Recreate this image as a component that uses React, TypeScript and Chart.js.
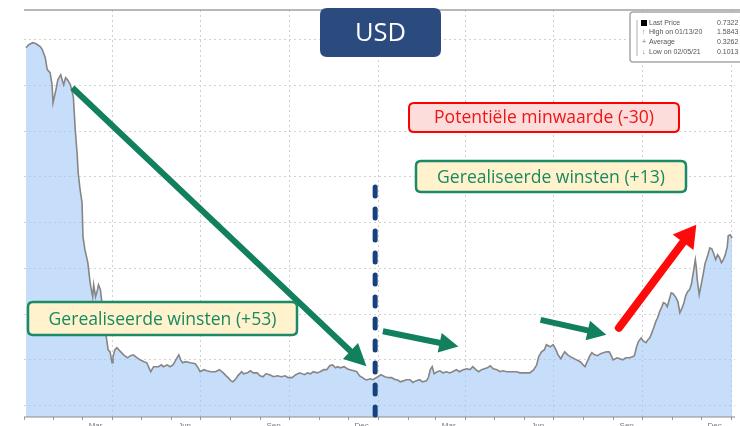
import React, { useEffect, useRef } from "react";
import { Chart, registerables } from "chart.js";

Chart.register(...registerables);

// Days since 2020-01-01
const days = [
  2, 5, 9, 12, 14, 17, 19, 22, 24, 27, 29, 30, 33, 35, 38, 40, 41, 43, 45, 48,
  51, 53, 55, 56, 58, 60, 61, 63, 66, 68, 69, 71, 72, 74, 76, 77, 79, 81, 84, 87,
  89, 91, 92, 94, 96, 100, 103, 107, 110, 113, 117, 120, 124, 127, 131, 134, 139, 142, 144, 148,
  151, 154, 156, 160, 162, 164, 167, 172, 177, 180, 182, 186, 189, 193, 198, 202, 206, 209, 211, 214,
  216, 219, 221, 225, 227, 231, 234, 237, 241, 244, 247, 250, 254, 258, 262, 266, 270, 273, 277, 281,
  285, 290, 293, 296, 299, 303, 306, 310, 313, 316, 319, 322, 324, 327, 331, 334, 337, 341, 344, 347,
  350, 353, 355, 358, 361, 364, 366, 369, 373, 377, 380, 384, 386, 389, 392, 395, 399, 402, 405, 409,
  412, 416, 418, 420, 422, 424, 427, 430, 433, 437, 440, 443, 447, 450, 454, 458, 461, 464, 467, 470,
  473, 476, 479, 482, 485, 489, 492, 495, 499, 502, 506, 509, 513, 518, 523, 527, 530, 532, 535, 538,
  540, 544, 547, 550, 552, 555, 557, 559, 562, 565, 567, 571, 575, 578, 580, 583, 585, 587, 590, 593,
  596, 599, 602, 605, 607, 609, 613, 616, 619, 622, 626, 629, 631, 633, 635, 638, 640, 643, 645, 647,
  649, 651, 653, 655, 657, 659, 661, 663, 665, 667, 669, 671, 674, 676, 678, 680, 682, 684, 686, 688,
  690, 692, 694, 695, 696, 698, 700, 702, 704, 707, 709, 711, 713, 715, 717, 719, 721, 723, 725, 727,
  728, 730, 732,
];

const prices = [
  1.565, 1.578, 1.587, 1.584, 1.578, 1.569, 1.556, 1.521, 1.469, 1.456, 1.403, 1.324, 1.381, 1.425, 1.447, 1.416, 1.403, 1.434, 1.425, 1.403,
  1.351, 1.206, 1.097, 1.018, 0.944, 0.887, 0.738, 0.681, 0.625, 0.55, 0.52, 0.476, 0.528, 0.476, 0.507, 0.528, 0.507, 0.432, 0.332, 0.244,
  0.235, 0.187, 0.213, 0.244, 0.253, 0.235, 0.222, 0.209, 0.218, 0.222, 0.209, 0.2, 0.192, 0.187, 0.148, 0.17, 0.17, 0.178, 0.17, 0.178,
  0.17, 0.178, 0.192, 0.222, 0.2, 0.187, 0.192, 0.187, 0.183, 0.165, 0.148, 0.157, 0.152, 0.148, 0.148, 0.157, 0.143, 0.13, 0.122, 0.108,
  0.104, 0.117, 0.13, 0.148, 0.139, 0.143, 0.152, 0.143, 0.143, 0.13, 0.126, 0.139, 0.135, 0.126, 0.13, 0.126, 0.13, 0.122, 0.122, 0.135,
  0.143, 0.135, 0.143, 0.139, 0.148, 0.143, 0.148, 0.157, 0.157, 0.174, 0.178, 0.165, 0.17, 0.165, 0.17, 0.161, 0.157, 0.152, 0.148, 0.13,
  0.122, 0.113, 0.113, 0.117, 0.113, 0.122, 0.126, 0.135, 0.126, 0.122, 0.122, 0.113, 0.113, 0.104, 0.108, 0.113, 0.113, 0.1013, 0.108, 0.113,
  0.104, 0.108, 0.122, 0.157, 0.17, 0.139, 0.148, 0.152, 0.143, 0.148, 0.143, 0.148, 0.157, 0.148, 0.157, 0.161, 0.157, 0.17, 0.157, 0.148,
  0.157, 0.161, 0.165, 0.174, 0.161, 0.157, 0.148, 0.152, 0.148, 0.148, 0.148, 0.148, 0.143, 0.143, 0.143, 0.157, 0.178, 0.213, 0.235, 0.244,
  0.266, 0.257, 0.266, 0.244, 0.222, 0.205, 0.222, 0.235, 0.222, 0.213, 0.209, 0.2, 0.192, 0.178, 0.17, 0.2, 0.218, 0.231, 0.222, 0.218,
  0.227, 0.231, 0.235, 0.235, 0.218, 0.2, 0.209, 0.205, 0.2, 0.209, 0.209, 0.213, 0.218, 0.253, 0.279, 0.296, 0.283, 0.275, 0.288, 0.296,
  0.318, 0.34, 0.366, 0.384, 0.41, 0.428, 0.45, 0.446, 0.432, 0.463, 0.493, 0.489, 0.472, 0.454, 0.406, 0.424, 0.446, 0.48, 0.498, 0.506,
  0.533, 0.585, 0.638, 0.603, 0.55, 0.485, 0.528, 0.572, 0.62, 0.66, 0.69, 0.686, 0.664, 0.638, 0.66, 0.647, 0.625, 0.638, 0.66, 0.695,
  0.743, 0.747, 0.7322,
];

// Axis structure
const monthStartDays = [0, 31, 60, 91, 121, 152, 182, 213, 244, 274, 305, 335, 366, 397, 425, 456, 486, 517, 547, 578, 609, 639, 670, 700, 731];
const quarterDays = [91, 182, 274, 366, 456, 547, 639, 731];
const labelDays = [74, 166, 258, 349, 439, 531, 623, 714];
const labelTexts = ["Mar", "Jun", "Sep", "Dec", "Mar", "Jun", "Sep", "Dec"];
const yGridValues = [0, 0.2, 0.4, 0.6, 0.8, 1.0, 1.2, 1.4, 1.6];

// Legend (Bloomberg box)
const legendLabels = ["Last Price", "High on 01/13/20", "Average", "Low on 02/05/21"];
const legendValues = ["0.7322", "1.5843", "0.3262", "0.1013"];

// Annotations (data coordinates: day, price)
const splitDay = 363;
const arrowFrom = [[50, 1.39], [371, 0.325], [534, 0.375], [615, 0.34]];
const arrowTo = [[354, 0.172], [449, 0.258], [602, 0.31], [695, 0.791]];
const arrowKinds = ["green", "green", "green", "red"];

const GREEN = "#12805E";
const GREEN_TEXT = "#178A62";
const RED = "#FF0A0A";
const NAVY = "#2B4B7E";
const FONT = "'Open Sans', 'Noto Sans', sans-serif";

function roundRect(ctx: CanvasRenderingContext2D, x: number, y: number, w: number, h: number, r: number) {
  ctx.beginPath();
  ctx.moveTo(x + r, y);
  ctx.lineTo(x + w - r, y);
  ctx.quadraticCurveTo(x + w, y, x + w, y + r);
  ctx.lineTo(x + w, y + h - r);
  ctx.quadraticCurveTo(x + w, y + h, x + w - r, y + h);
  ctx.lineTo(x + r, y + h);
  ctx.quadraticCurveTo(x, y + h, x, y + h - r);
  ctx.lineTo(x, y + r);
  ctx.quadraticCurveTo(x, y, x + r, y);
  ctx.closePath();
}

function fitSize(ctx: CanvasRenderingContext2D, text: string, family: string, width: number) {
  ctx.font = `100px ${family}`;
  const w = ctx.measureText(text).width;
  return (100 * width) / w;
}

function textBox(
  ctx: CanvasRenderingContext2D,
  x: number, y: number, w: number, h: number,
  text: string, fill: string, stroke: string, color: string, textWidth: number, lw: number, r: number
) {
  roundRect(ctx, x, y, w, h, r);
  ctx.fillStyle = fill;
  ctx.fill();
  if (lw > 0) {
    ctx.lineWidth = lw;
    ctx.strokeStyle = stroke;
    ctx.stroke();
  }
  const size = fitSize(ctx, text, FONT, textWidth);
  ctx.font = `${size}px ${FONT}`;
  ctx.fillStyle = color;
  ctx.textAlign = "center";
  ctx.textBaseline = "middle";
  ctx.fillText(text, x + w / 2, y + h / 2 + 1);
}

function drawArrow(
  ctx: CanvasRenderingContext2D,
  x1: number, y1: number, x2: number, y2: number,
  color: string, width: number, headLen: number, half: number, cap: CanvasLineCap
) {
  const a = Math.atan2(y2 - y1, x2 - x1);
  const c = Math.cos(a), s = Math.sin(a);
  const bx = x2 - headLen * c, by = y2 - headLen * s;
  ctx.save();
  ctx.strokeStyle = color;
  ctx.fillStyle = color;
  ctx.lineWidth = width;
  ctx.lineCap = cap;
  ctx.beginPath();
  ctx.moveTo(x1, y1);
  ctx.lineTo(bx + c * 2, by + s * 2);
  ctx.stroke();
  ctx.beginPath();
  ctx.moveTo(x2, y2);
  ctx.lineTo(bx + half * s, by - half * c);
  ctx.lineTo(bx - half * s, by + half * c);
  ctx.closePath();
  ctx.fill();
  ctx.restore();
}

const overlay = {
  id: "overlay",
  afterDraw(chart: any) {
    const ctx: CanvasRenderingContext2D = chart.ctx;
    const { left, right, top, bottom } = chart.chartArea;
    const xs = chart.scales.x;
    const ys = chart.scales.y;
    ctx.save();

    // frame: top line and bottom axis line
    ctx.strokeStyle = "#a0a0a0";
    ctx.lineWidth = 1.5;
    ctx.beginPath();
    ctx.moveTo(left, top);
    ctx.lineTo(chart.width, top);
    ctx.stroke();
    ctx.strokeStyle = "#8c8c8c";
    ctx.lineWidth = 1.2;
    ctx.beginPath();
    ctx.moveTo(left, bottom);
    ctx.lineTo(right, bottom);
    ctx.stroke();

    // dashed split line
    const sx = xs.getPixelForValue(splitDay);
    ctx.save();
    ctx.strokeStyle = "#17407F";
    ctx.lineWidth = 5;
    ctx.lineCap = "round";
    ctx.setLineDash([9, 13]);
    ctx.beginPath();
    ctx.moveTo(sx, 187);
    ctx.lineTo(sx, bottom - 2);
    ctx.stroke();
    ctx.restore();

    // arrows
    for (let i = 0; i < arrowFrom.length; i++) {
      const x1 = xs.getPixelForValue(arrowFrom[i][0]);
      const y1 = ys.getPixelForValue(arrowFrom[i][1]);
      const x2 = xs.getPixelForValue(arrowTo[i][0]);
      const y2 = ys.getPixelForValue(arrowTo[i][1]);
      if (arrowKinds[i] === "red") drawArrow(ctx, x1, y1, x2, y2, RED, 8, 22, 13, "round");
      else if (i === 0) drawArrow(ctx, x1, y1, x2, y2, GREEN, 6, 22, 11, "butt");
      else drawArrow(ctx, x1, y1, x2, y2, GREEN, 6, 19, 10, "butt");
    }

    // USD title box
    textBox(ctx, 320, 8, 121, 49, "USD", NAVY, NAVY, "#ffffff", 51, 0, 7);

    // annotation boxes
    textBox(ctx, 409, 103, 270, 29, "Potentiële minwaarde (-30)", "#FDDCDC", "#FF0000", "#F01414", 220, 2, 5);
    textBox(ctx, 416, 161, 270, 31, "Gerealiseerde winsten (+13)", "#FFF2CC", "#1B8A66", GREEN_TEXT, 228, 2.5, 5);
    textBox(ctx, 28, 302, 269, 33, "Gerealiseerde winsten (+53)", "#FFF2CC", "#1B8A66", GREEN_TEXT, 228, 2.5, 5);

    // Bloomberg legend box
    ctx.save();
    roundRect(ctx, 630, 12, 120, 50, 3);
    ctx.fillStyle = "#ffffff";
    ctx.fill();
    ctx.strokeStyle = "#a8a8a8";
    ctx.lineWidth = 1.5;
    ctx.stroke();
    ctx.strokeStyle = "#b0b0b0";
    ctx.lineWidth = 1;
    ctx.beginPath();
    ctx.moveTo(637, 20);
    ctx.lineTo(637, 56);
    ctx.stroke();
    const rowY = [23, 32, 42, 52];
    ctx.font = "7px 'Liberation Sans', Arial, sans-serif";
    ctx.textBaseline = "middle";
    for (let i = 0; i < legendLabels.length; i++) {
      ctx.fillStyle = "#555";
      ctx.textAlign = "left";
      if (i === 0) {
        ctx.fillStyle = "#000";
        ctx.fillRect(641, rowY[i] - 3, 6, 6);
      } else {
        ctx.fillStyle = "#777";
        ctx.fillText(["", "↑", "+", "↓"][i], 642, rowY[i]);
      }
      ctx.fillStyle = "#555";
      ctx.fillText(legendLabels[i], 649, rowY[i]);
      ctx.fillText(legendValues[i], 717, rowY[i]);
    }
    ctx.restore();

    ctx.restore();
  },
};

export default function App() {
  const ref = useRef<HTMLCanvasElement | null>(null);

  useEffect(() => {
    if (!ref.current) return;
    Chart.defaults.font.family = "'Liberation Sans', Arial, sans-serif";
    const points = days.map((d, i) => ({ x: d, y: prices[i] }));
    const chart = new Chart(ref.current, {
      type: "line",
      data: {
        datasets: [
          {
            data: points,
            borderColor: "#868686",
            borderWidth: 1.6,
            pointRadius: 0,
            fill: "start",
            backgroundColor: "rgba(160, 200, 245, 0.6)",
            tension: 0,
          },
        ],
      },
      options: {
        responsive: false,
        animation: false,
        events: [],
        layout: { padding: { left: 24, right: 5, top: 10, bottom: 0 } },
        plugins: { legend: { display: false }, tooltip: { enabled: false } },
        scales: {
          x: {
            type: "linear",
            position: "bottom",
            min: 0,
            max: 735,
            afterBuildTicks: (s: any) => {
              s.ticks = monthStartDays.map((v) => ({ value: v }));
            },
            afterFit: (s: any) => {
              s.height = 3;
            },
            ticks: { display: false },
            grid: {
              color: (c: any) => (c.tick && quarterDays.includes(c.tick.value) ? "#cfcfcf" : "rgba(0,0,0,0)"),
              tickColor: "#9a9a9a",
              tickLength: 3,
              drawTicks: true,
              lineWidth: 1,
            },
            border: { display: false, dash: [2, 3] },
          },
          x2: {
            type: "linear",
            position: "bottom",
            min: 0,
            max: 735,
            afterBuildTicks: (s: any) => {
              s.ticks = labelDays.map((v) => ({ value: v }));
            },
            afterFit: (s: any) => {
              s.height = 6;
            },
            ticks: {
              autoSkip: false,
              maxRotation: 0,
              padding: 1,
              color: "#777",
              font: { size: 8 },
              callback: (_v: any, i: number) => labelTexts[i],
            },
            grid: { display: false, drawTicks: false },
            border: { display: false },
          },
          y: {
            type: "linear",
            position: "left",
            min: -0.05,
            max: 1.73,
            afterBuildTicks: (s: any) => {
              s.ticks = yGridValues.map((v) => ({ value: v }));
            },
            afterFit: (s: any) => {
              s.width = 0;
            },
            ticks: { display: false },
            grid: { color: "#d2d2d2", drawTicks: false, lineWidth: 1 },
            border: { display: false, dash: [2, 3] },
          },
        },
      },
      plugins: [overlay],
    });
    return () => chart.destroy();
  }, []);

  return (
    <div style={{ position: "fixed", left: 0, top: 0, width: 740, height: 426, overflow: "hidden", background: "#fff" }}>
      <canvas ref={ref} width={740} height={426} style={{ display: "block", width: 740, height: 426 }} />
    </div>
  );
}
